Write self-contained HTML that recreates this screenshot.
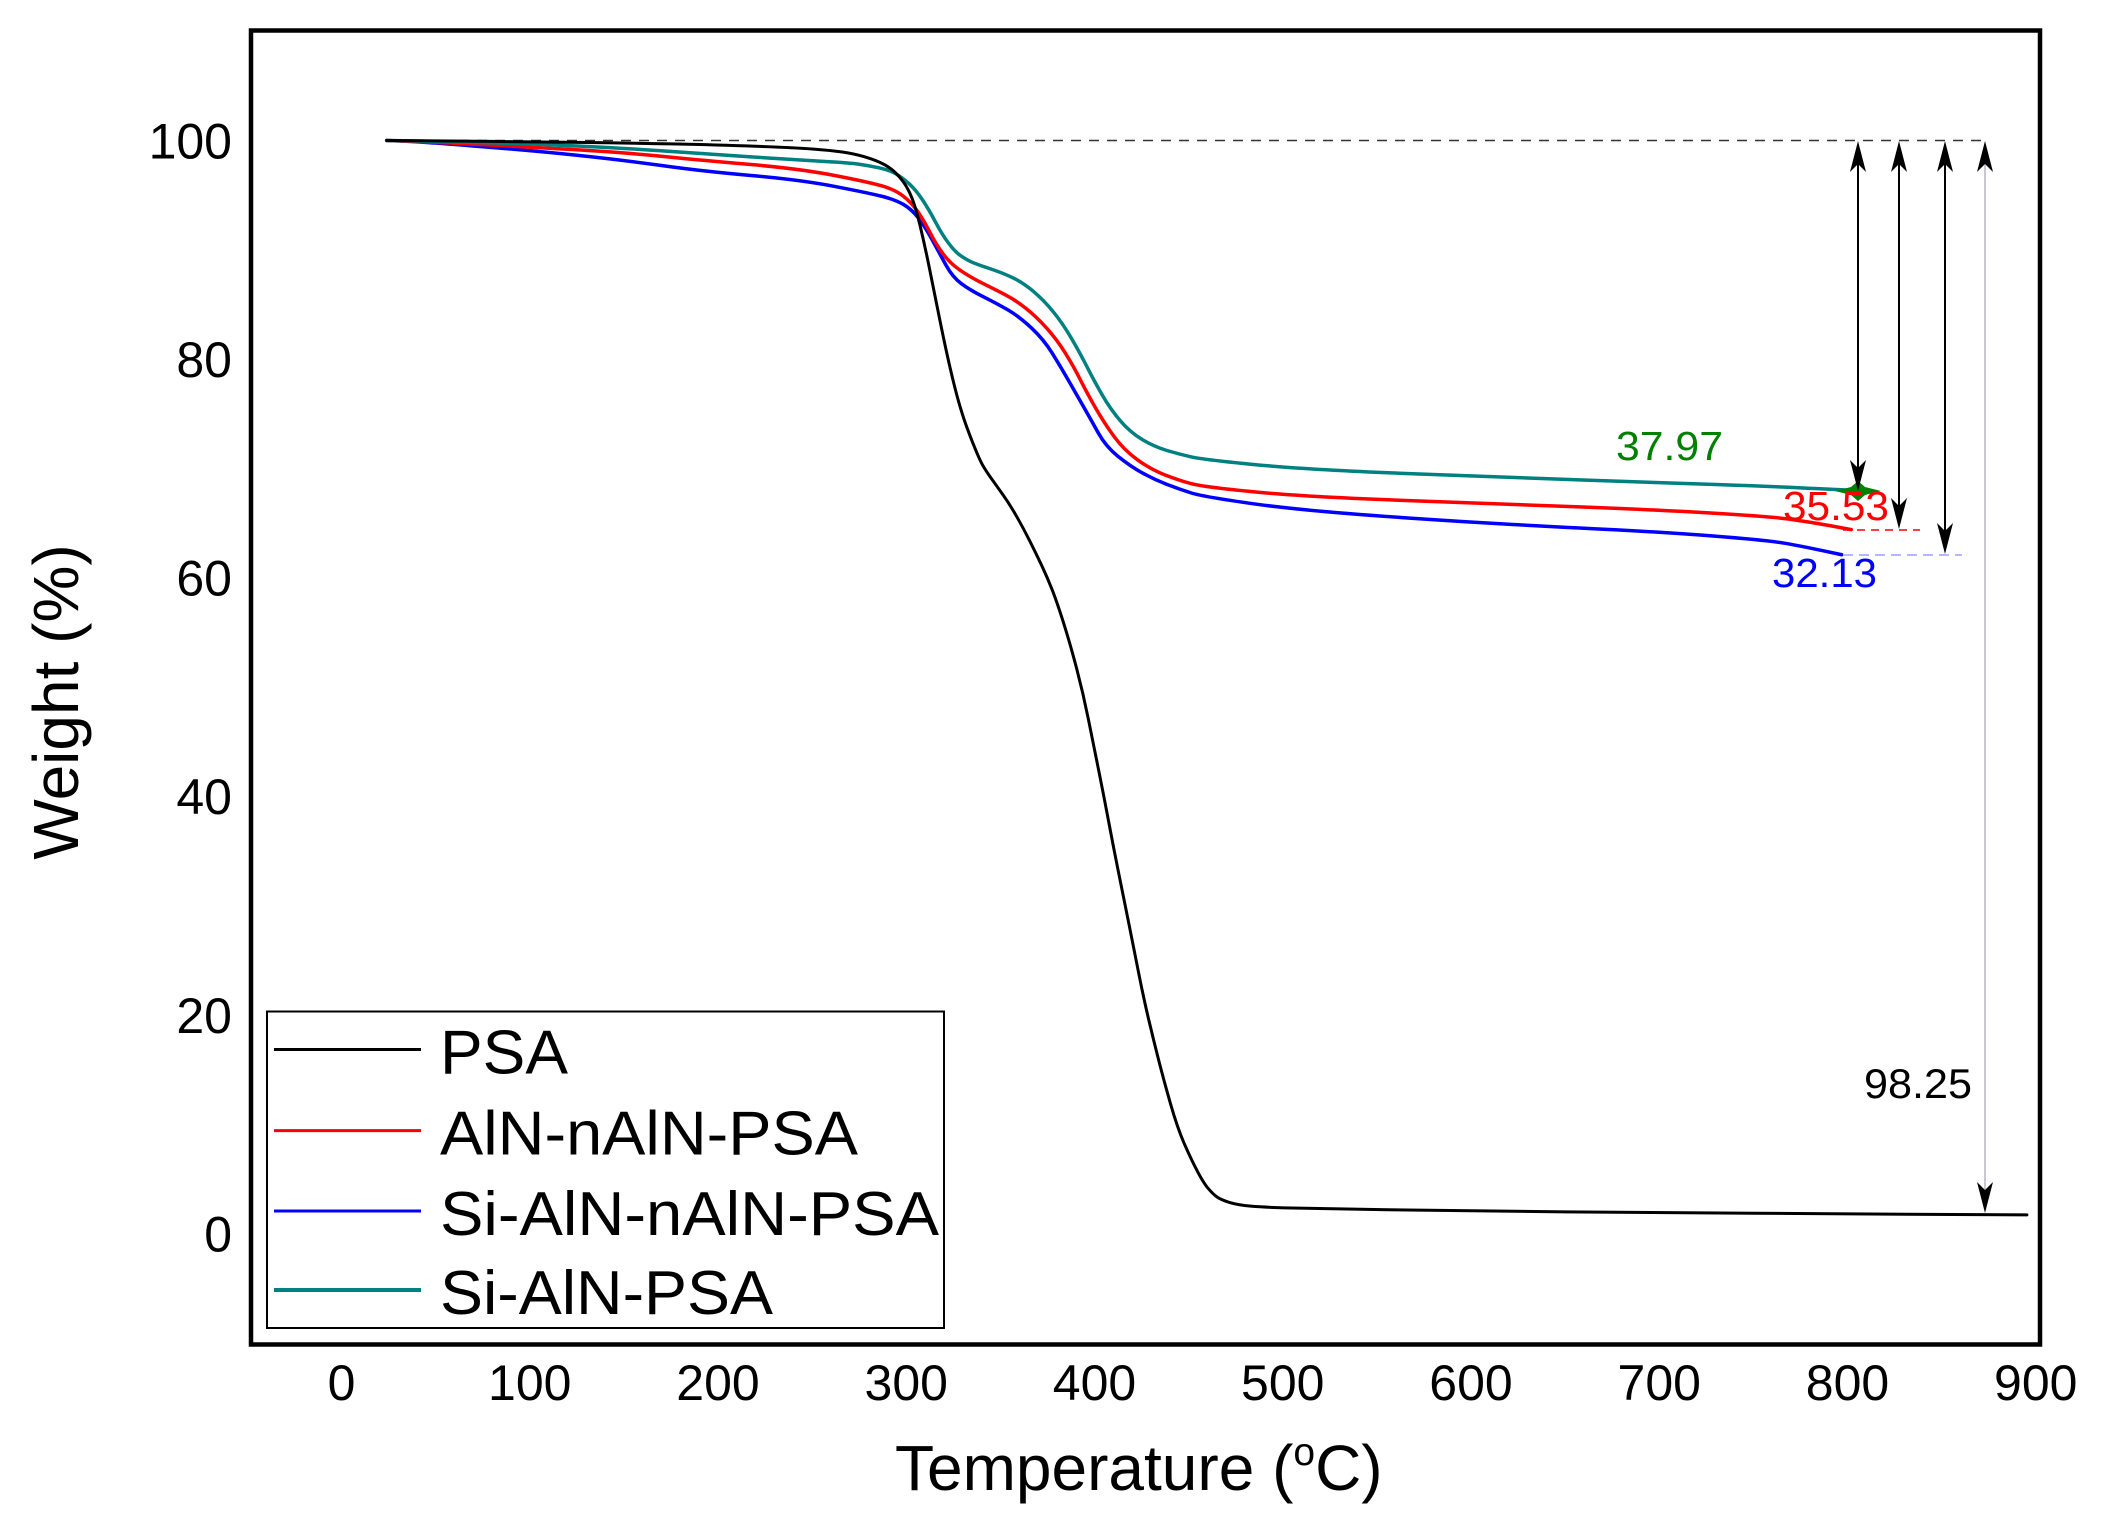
<!DOCTYPE html>
<html>
<head>
<meta charset="utf-8">
<style>
  html, body { margin: 0; padding: 0; background: #ffffff; }
  svg { display: block; }
  text { font-family: "Liberation Sans", Arial, sans-serif; }
</style>
</head>
<body>
<svg width="2104" height="1528" viewBox="0 0 2104 1528" xmlns="http://www.w3.org/2000/svg">
  <rect x="0" y="0" width="2104" height="1528" fill="#ffffff"/>

  <!-- 100% reference dashed line -->
  <line x1="387" y1="140.5" x2="1989" y2="140.5" stroke="#333" stroke-width="1.6" stroke-dasharray="10 8"/>

  <!-- data curves in data coordinates: X = 341.5 + 1.8825*T ; Y = 1233.5 - 10.93*W -->
  <g transform="matrix(1.8825 0 0 -10.93 341.5 1233.5)" fill="none" stroke-linejoin="round" stroke-linecap="round">
    <path vector-effect="non-scaling-stroke" stroke="#0000ff" stroke-width="3.5"
      d="M24,100 L32,99.95 Q40,99.9 70,99.5 Q100,99.1 125,98.65 Q150,98.2 170.5,97.7 Q191,97.2 217.5,96.8 Q244,96.4 262,95.8 Q280,95.2 287,94.9 Q294,94.6 298.5,94.15 Q303,93.7 306.5,92.9 Q310,92.1 313.8,90.9 Q317.6,89.7 321.1,88.6 Q324.6,87.5 329.3,86.9 Q334,86.3 341,85.7 Q348,85.1 354,84.5 Q360,83.9 366.5,82.85 Q373,81.8 377.5,80.55 Q382,79.3 386,78.1 Q390,76.9 394,75.7 Q398,74.5 402,73.25 Q406,72.0 412.5,71.1 Q419,70.2 425.25,69.6 Q431.5,69.0 438.25,68.55 Q445,68.1 451.5,67.75 Q458,67.4 485,66.75 Q512,66.1 563.5,65.5 Q615,64.9 657.5,64.55 Q700,64.2 729.5,63.8 Q759,63.4 768.5,63.1 Q778,62.8 787.5,62.45 L797,62.1"/>
    <path vector-effect="non-scaling-stroke" stroke="#ff0000" stroke-width="3.5"
      d="M24,100 L37,99.925 Q50,99.85 75,99.625 Q100,99.4 125,99.15 Q150,98.9 170.5,98.55 Q191,98.2 217.5,97.8 Q244,97.4 262,96.8 Q280,96.2 287,95.85 Q294,95.5 298.5,94.9 Q303,94.3 306.5,93.4 Q310,92.5 312.75,91.55 Q315.5,90.6 319.25,89.7 Q323,88.8 328.5,88.15 Q334,87.5 341,86.9 Q348,86.3 353,85.85 Q358,85.4 363.5,84.65 Q369,83.9 374.5,82.85 Q380,81.8 384.5,80.55 Q389,79.3 392.5,78.1 Q396,76.9 400.5,75.55 Q405,74.2 410.25,72.95 Q415.5,71.7 422.75,70.8 Q430,69.9 437.5,69.4 Q445,68.9 451.5,68.6 Q458,68.3 485,67.85 Q512,67.4 563.5,67.075 Q615,66.75 657.5,66.475 Q700,66.2 729.5,65.9 Q759,65.6 769.5,65.35 Q780,65.1 791,64.75 L802,64.4"/>
    <path vector-effect="non-scaling-stroke" stroke="#008080" stroke-width="3.5"
      d="M24,100 L37,99.96 Q50,99.92 75,99.81 Q100,99.7 125,99.5 Q150,99.3 170.5,99.05 Q191,98.8 217.5,98.5 Q244,98.2 257,98.075 Q270,97.95 275,97.825 Q280,97.7 285.5,97.5 Q291,97.3 294.5,96.95 Q298,96.6 301.5,96.05 Q305,95.5 308.5,94.6 Q312,93.7 315.5,92.55 Q319,91.4 322.5,90.6 Q326,89.8 329,89.45 Q332,89.1 334.5,88.9 Q337,88.7 344,88.3 Q351,87.9 356.5,87.45 Q362,87.0 367.5,86.2 Q373,85.4 378,84.35 Q383,83.3 387.75,81.9 Q392.5,80.5 396,79.3 Q399.5,78.1 404,76.75 Q408.5,75.4 413.75,74.35 Q419,73.3 425.25,72.65 Q431.5,72.0 438.25,71.65 Q445,71.3 451.5,71.05 Q458,70.8 485,70.35 Q512,69.9 563.5,69.55 Q615,69.2 657.5,68.95 Q700,68.7 730,68.525 Q760,68.35 784,68.15 L808,67.95"/>
    <path vector-effect="non-scaling-stroke" stroke="#000000" stroke-width="3"
      d="M24,100 L42,99.975 Q60,99.95 80,99.915 Q100,99.88 125,99.83 Q150,99.78 175,99.69 Q200,99.6 220,99.475 Q240,99.35 250,99.225 Q260,99.1 266,98.95 Q272,98.8 277,98.55 Q282,98.3 286,98.0 Q290,97.7 293,97.25 Q296,96.8 298.5,96.2 Q301,95.6 303,94.75 Q305,93.9 307.5,92.1 Q310,90.3 312.5,88.15 Q315,86.0 318,83.45 Q321,80.9 323.5,79.05 Q326,77.2 328,76.0 Q330,74.8 332,73.85 Q334,72.9 336,72.05 Q338,71.2 339.5,70.65 Q341,70.1 344.5,69.25 Q348,68.4 351.5,67.55 Q355,66.7 358.5,65.65 Q362,64.6 365.5,63.4 Q369,62.2 372,61.1 Q375,60.0 377.5,58.9 Q380,57.8 383.5,55.9 Q387,54.0 390.5,51.7 Q394,49.4 396.75,47.05 Q399.5,44.7 402.25,42.35 Q405,40.0 407.5,37.7 Q410,35.4 412.75,33.05 Q415.5,30.7 418.25,28.35 Q421,26.0 423.5,23.8 Q426,21.6 428.75,19.6 Q431.5,17.6 434.25,15.75 Q437,13.9 440.5,11.8 Q444,9.7 447.5,8.3 Q451,6.9 454.5,5.75 Q458,4.6 460.5,4.1 Q463,3.6 465,3.35 Q467,3.1 471.5,2.85 Q476,2.6 483,2.5 Q490,2.4 501,2.35 Q512,2.3 556,2.175 Q600,2.05 650,1.975 Q700,1.9 750,1.85 Q800,1.8 895.3,1.7"/>
  </g>

  <!-- residual dashed extensions -->
  <line x1="1843" y1="530" x2="1920" y2="530" stroke="#ff0000" stroke-width="1.6" stroke-dasharray="8 6"/>
  <line x1="1843" y1="555" x2="1962" y2="555" stroke="#b4b9ff" stroke-width="2" stroke-dasharray="10 6"/>

  <!-- green marker -->
  <polygon points="1835,491 1851,487 1858,481 1865,487 1881,491 1865,495 1858,501 1851,495" fill="#008000"/>

  <!-- vertical arrows -->
  <line x1="1858" y1="160" x2="1858" y2="472" stroke="#000" stroke-width="2"/>
  <line x1="1899" y1="160" x2="1899" y2="510" stroke="#000" stroke-width="2"/>
  <line x1="1945" y1="160" x2="1945" y2="535" stroke="#000" stroke-width="2"/>
  <line x1="1985" y1="160" x2="1985" y2="1195" stroke="#c8c8d2" stroke-width="2"/>

  <g fill="#000">
    <path d="M1858,141 L1850,172 L1858,164 L1866,172 Z"/>
    <path d="M1899,141 L1891,172 L1899,164 L1907,172 Z"/>
    <path d="M1945,141 L1937,172 L1945,164 L1953,172 Z"/>
    <path d="M1985,141 L1977,172 L1985,164 L1993,172 Z"/>
    <path d="M1858,491 L1850,460 L1858,468 L1866,460 Z"/>
    <path d="M1899,529 L1891,498 L1899,506 L1907,498 Z"/>
    <path d="M1945,554 L1937,523 L1945,531 L1953,523 Z"/>
    <path d="M1985,1213 L1977,1182 L1985,1190 L1993,1182 Z"/>
  </g>

  <!-- annotation values -->
  <text x="1616" y="460" font-size="41" fill="#008000" textLength="107" lengthAdjust="spacingAndGlyphs">37.97</text>
  <text x="1783" y="520" font-size="41" fill="#ff0000" textLength="106" lengthAdjust="spacingAndGlyphs">35.53</text>
  <text x="1772" y="587" font-size="41" fill="#0000ff" textLength="105" lengthAdjust="spacingAndGlyphs">32.13</text>
  <text x="1864" y="1098" font-size="42" fill="#000" textLength="108" lengthAdjust="spacingAndGlyphs">98.25</text>

  <!-- legend -->
  <rect x="267" y="1011.5" width="677" height="316.5" fill="#ffffff" stroke="#000" stroke-width="2"/>
  <line x1="274" y1="1049.5" x2="421" y2="1049.5" stroke="#000" stroke-width="3"/>
  <line x1="274" y1="1130.6" x2="421" y2="1130.6" stroke="#ff0000" stroke-width="3"/>
  <line x1="274" y1="1211" x2="421" y2="1211" stroke="#0000ff" stroke-width="3"/>
  <line x1="274" y1="1290" x2="421" y2="1290" stroke="#008080" stroke-width="4"/>
  <g font-size="62" fill="#000">
    <text x="440" y="1073.5" textLength="128" lengthAdjust="spacingAndGlyphs">PSA</text>
    <text x="440" y="1154.5" textLength="418" lengthAdjust="spacingAndGlyphs">AlN-nAlN-PSA</text>
    <text x="440" y="1235" textLength="499" lengthAdjust="spacingAndGlyphs">Si-AlN-nAlN-PSA</text>
    <text x="440" y="1314" textLength="333" lengthAdjust="spacingAndGlyphs">Si-AlN-PSA</text>
  </g>

  <!-- frame -->
  <rect x="251" y="30.5" width="1789" height="1314" fill="none" stroke="#000" stroke-width="4.5"/>

  <!-- y tick labels -->
  <g font-size="50" fill="#000" text-anchor="end">
    <text x="232" y="158.5">100</text>
    <text x="232" y="377">80</text>
    <text x="232" y="595.7">60</text>
    <text x="232" y="814">40</text>
    <text x="232" y="1033">20</text>
    <text x="232" y="1251.5">0</text>
  </g>

  <!-- x tick labels -->
  <g font-size="50" fill="#000" text-anchor="middle">
    <text x="341.5" y="1400">0</text>
    <text x="529.75" y="1400">100</text>
    <text x="718" y="1400">200</text>
    <text x="906.25" y="1400">300</text>
    <text x="1094.5" y="1400">400</text>
    <text x="1282.75" y="1400">500</text>
    <text x="1471" y="1400">600</text>
    <text x="1659.25" y="1400">700</text>
    <text x="1847.5" y="1400">800</text>
    <text x="2035.75" y="1400">900</text>
  </g>

  <!-- axis titles -->
  <text x="895" y="1490" font-size="64" fill="#000">Temperature (<tspan font-size="39" dy="-25">o</tspan><tspan dy="25">C)</tspan></text>
  <text transform="translate(78,702) rotate(-90)" font-size="64" fill="#000" text-anchor="middle">Weight (%)</text>
</svg>
</body>
</html>
